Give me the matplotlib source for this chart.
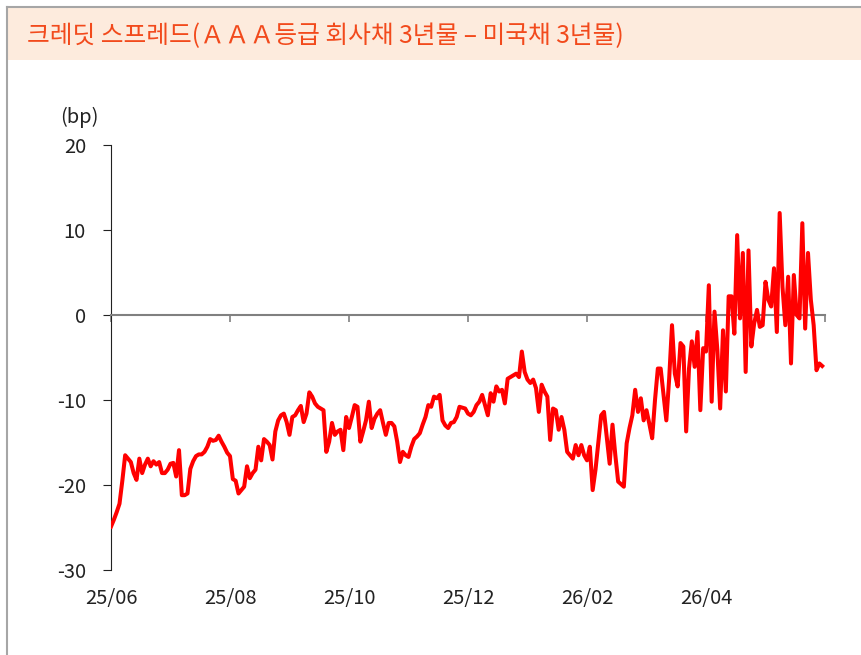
import numpy as np
import matplotlib.pyplot as plt
from matplotlib.patches import Rectangle
from matplotlib.lines import Line2D

plt.rcParams['font.family'] = ['Noto Sans CJK KR', 'DejaVu Sans']
plt.rcParams['axes.unicode_minus'] = False

# chart text
title = '크레딧 스프레드(ＡＡＡ등급 회사채 3년물 – 미국채 3년물)'
unit_label = '(bp)'
tick_labels = ['25/06', '25/08', '25/10', '25/12', '26/02', '26/04', '']
tick_step = 42  # business days between labels

# AAA 3y corporate minus 3y treasury, bp (daily)
spread = [
    -24.9, -24.1, -23.2, -22.2, -19.5, -16.5, -16.9, -17.3, -18.6, -19.4,
    -16.9, -18.6, -17.6, -16.9, -17.8, -17.2, -17.6, -17.3, -18.6, -18.6,
    -18.2, -17.5, -17.4, -19.0, -15.9, -21.2, -21.2, -21.0, -18.1, -17.2,
    -16.6, -16.4, -16.4, -16.1, -15.5, -14.6, -14.8, -14.7, -14.2, -14.9,
    -15.5, -16.2, -16.6, -19.3, -19.5, -21.0, -20.6, -20.2, -17.8, -19.2,
    -18.6, -18.2, -15.5, -17.1, -14.6, -14.9, -15.3, -17.0, -13.7, -12.4,
    -11.8, -11.6, -12.6, -14.1, -12.0, -11.8, -11.2, -10.7, -12.6, -11.6,
    -9.1, -9.6, -10.4, -10.8, -11.0, -11.2, -16.1, -14.9, -12.7, -14.1,
    -13.7, -13.5, -15.9, -12.0, -13.3, -12.0, -10.6, -10.8, -14.9, -13.7,
    -12.4, -10.2, -13.3, -12.2, -11.6, -11.2, -12.7, -14.1, -12.7, -12.7,
    -13.1, -14.9, -17.3, -16.1, -16.5, -16.7, -15.5, -14.6, -14.3, -13.9,
    -12.9, -12.0, -10.6, -10.8, -9.6, -9.8, -9.4, -12.4, -13.0, -13.3,
    -12.7, -12.6, -12.0, -10.8, -10.9, -11.0, -11.6, -11.8, -11.4, -10.6,
    -10.2, -9.4, -10.6, -11.8, -9.2, -10.2, -8.4, -9.0, -8.8, -10.4,
    -7.5, -7.3, -7.1, -6.9, -7.3, -4.3, -6.7, -7.6, -8.0, -7.6,
    -8.6, -11.4, -8.2, -9.0, -9.6, -14.7, -11.0, -11.2, -13.5, -12.0,
    -13.5, -16.1, -16.5, -16.9, -15.3, -16.5, -15.3, -16.5, -17.1, -15.5,
    -20.6, -18.2, -15.0, -11.8, -11.4, -14.5, -17.5, -12.9, -16.5, -19.6,
    -19.9, -20.2, -15.1, -13.3, -11.8, -8.8, -11.4, -9.8, -12.4, -11.2,
    -12.8, -14.5, -10.0, -6.3, -6.3, -9.4, -12.4, -7.5, -1.2, -6.9,
    -8.4, -3.3, -3.7, -13.7, -6.3, -3.1, -6.1, -2.0, -11.2, -3.9,
    -4.3, 3.5, -10.2, 0.4, -4.1, -11.0, -1.8, -9.0, 2.2, 2.2,
    -2.2, 9.4, -0.4, 7.3, -6.7, 7.6, -3.7, -1.0, 0.6, -1.4,
    -1.2, 3.9, 1.8, 1.0, 5.5, -2.0, 12.0, 3.3, -1.2, 4.5,
    -5.7, 4.7, 0.0, -0.4, 10.8, -1.6, 7.3, 1.8, -1.2, -6.5,
    -5.7, -6.0,
]

W, H = 862, 655
fig = plt.figure(figsize=(W / 100, H / 100), dpi=100)

# header band + frame
fig.patches.append(Rectangle((8 / W, 1 - 60 / H), 1, 52 / H, transform=fig.transFigure,
                             facecolor='#fdebdd', edgecolor='none'))
fig.lines.append(Line2D([7 / W, 1], [1 - 7 / H] * 2, transform=fig.transFigure,
                        color='#a6a6a6', lw=1.5))
fig.lines.append(Line2D([7 / W] * 2, [0, 1 - 7 / H], transform=fig.transFigure,
                        color='#a6a6a6', lw=1.5))
fig.text(27 / W, 1 - 36 / H, title, color='#f24a1c', fontsize=17.8, va='center')

ax = fig.add_axes([111 / W, 1 - 570 / H, 714 / W, 425 / H])
x = np.arange(len(spread))
ax.plot(x, spread, color='#ff0000', lw=2.9, solid_joinstyle='round', zorder=3)

ax.set_xlim(0, tick_step * (len(tick_labels) - 1))
ax.set_ylim(-30, 20)
ax.set_yticks(np.arange(-30, 21, 10))

for s in ['top', 'right']:
    ax.spines[s].set_visible(False)
ax.spines['left'].set_color('#222222')
ax.spines['bottom'].set_position(('data', 0))
ax.spines['bottom'].set_color('#808080')
ax.spines['bottom'].set_linewidth(1.5)

ticks = np.arange(len(tick_labels)) * tick_step
ax.set_xticks(ticks)
ax.tick_params(axis='x', direction='out', length=5, color='#808080', width=1.2,
               labelbottom=False)
ax.tick_params(axis='y', direction='out', length=6, color='#222222',
               labelsize=14.5, labelcolor='#222222', pad=12)

# date labels sit under the plot, not on the zero line
sec = ax.secondary_xaxis('bottom')
sec.set_xticks(ticks)
sec.set_xticklabels(tick_labels)
sec.spines['bottom'].set_visible(False)
sec.tick_params(length=0, labelsize=14.5, labelcolor='#222222', pad=13)

ax.text(-0.018, 1.065, unit_label, transform=ax.transAxes, ha='right', va='center',
        fontsize=14.5, color='#222222')

fig.savefig('out.png', dpi=100)
